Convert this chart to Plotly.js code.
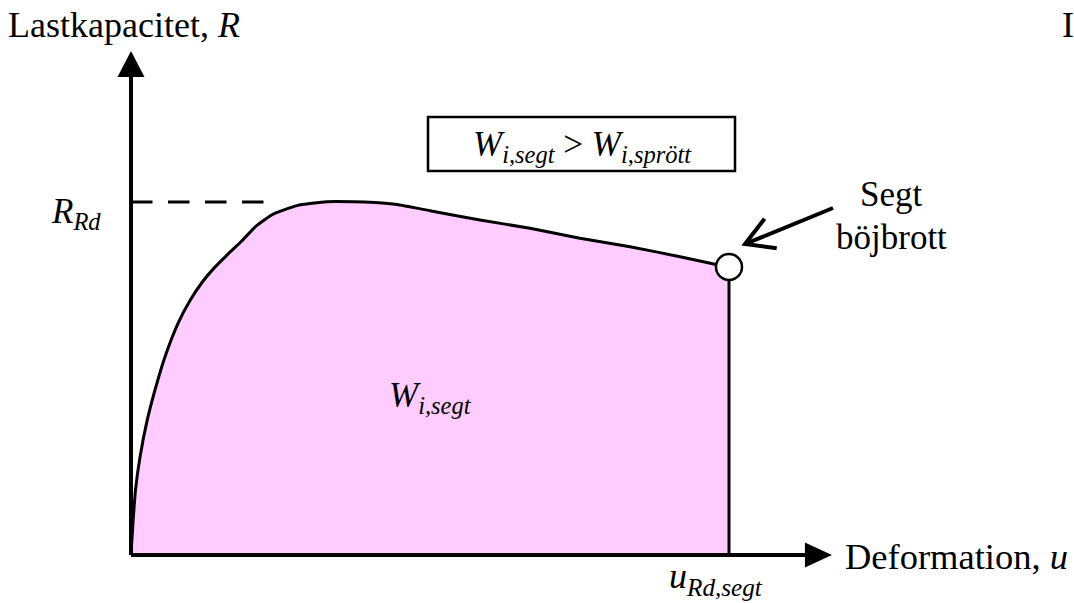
<!DOCTYPE html>
<html><head><meta charset="utf-8">
<script src="https://cdn.plot.ly/plotly-3.0.1.min.js"></script>
<style>html,body{margin:0;padding:0;background:#fff;overflow:hidden;}</style>
</head><body><div id="chart" style="width:1074px;height:603px;"></div>
<script>
// Deformation u (normalised so that u_Rd,segt = 1) and load capacity R (normalised so that R_Rd = 1)
const deformation = [0, 0.0033, 0.0075, 0.0151, 0.0259, 0.0401, 0.0569, 0.0786, 0.0987, 0.1187, 0.1388, 0.1622, 0.1856, 0.2090, 0.2375, 0.2776, 0.3278, 0.3712, 0.4080, 0.4448, 0.5, 0.5836, 0.6672, 0.7508, 0.8344, 0.9181, 0.9821, 1.0];
const capacity    = [0, 0.0907, 0.1841, 0.2776, 0.3731, 0.4674, 0.5618, 0.6564, 0.7210, 0.7720, 0.8127, 0.8524, 0.8901, 0.9317, 0.9654, 0.9898, 1.0008, 1.0008, 0.9983, 0.9929, 0.9754, 0.9490, 0.9255, 0.8972, 0.8734, 0.8450, 0.8215, 0.8159];
const R_Rd = 1.0;          // design capacity level (dashed line)
const uRdSegt = 1.0;       // ductile failure deformation
const dashedEndU = 0.2258; // end of dashed R_Rd line
const axisEndU = 1.127;    // end of u axis shaft
const axisEndR = 1.354;    // end of R axis shaft

const yLabel = 'Lastkapacitet, <i>R</i>';
const xLabel = 'Deformation, <i>u</i>';
const rRdLabel = '<i>R<sub>Rd</sub></i>';
const uRdLabel = '<i>u<sub>Rd,segt</sub></i>';
const areaLabel = '<i>W<sub>i,segt</sub></i>';
const boxLabel = '<i>W<sub>i,segt</sub></i> &gt; <i>W<sub>i,sprött</sub></i>';
const failLabel1 = 'Segt';
const failLabel2 = 'böjbrott';
const cornerLabel = 'I';

// ---- geometry helpers (pixel <-> data for the fixed 1074x603 canvas) ----
const W = 1074, H = 603;
const X0 = 131, Y0 = 555, SX = 598, SY = 353;
const xRange = [-X0 / SX, (W - X0) / SX];
const yRange = [-(H - Y0) / SY, Y0 / SY];
const du = p => p / SX, dr = p => p / SY;
const U = px => (px - X0) / SX, R = py => (Y0 - py) / SY;
const PX = x => x / W, PY = y => 1 - y / H;

const FONT = 'Liberation Serif';
const lastR = capacity[capacity.length - 1];

const traces = [
  {x: deformation, y: capacity, type: 'scatter', mode: 'none', fill: 'tozeroy',
   fillcolor: '#FFCCFF', line: {shape: 'spline', smoothing: 0.5}, hoverinfo: 'skip'},
  {x: deformation, y: capacity, type: 'scatter', mode: 'lines',
   line: {color: '#000', width: 3, shape: 'spline', smoothing: 0.5}, hoverinfo: 'skip'},
  {x: [uRdSegt, uRdSegt], y: [0, lastR], type: 'scatter', mode: 'lines',
   line: {color: '#000', width: 3}, hoverinfo: 'skip'},
  {x: [uRdSegt], y: [lastR], type: 'scatter', mode: 'markers', cliponaxis: false,
   marker: {size: 26, color: '#fff', line: {color: '#000', width: 2.5}}, hoverinfo: 'skip'}
];

// callout arrow
const tail = [833, 208], tip = [745, 244];
const len = Math.hypot(tail[0] - tip[0], tail[1] - tip[1]);
const d = [(tail[0] - tip[0]) / len, (tail[1] - tip[1]) / len];
const wing = (a, L) => [tip[0] + L * (Math.cos(a) * d[0] - Math.sin(a) * d[1]),
                        tip[1] + L * (Math.sin(a) * d[0] + Math.cos(a) * d[1])];
const w1 = wing(Math.PI / 6, 32), w2 = wing(-Math.PI / 6, 32);

const shapes = [
  // axes
  {type: 'line', x0: 0, y0: 0, x1: 0, y1: axisEndR, line: {color: '#000', width: 4}},
  {type: 'line', x0: 0, y0: 0, x1: axisEndU, y1: 0, line: {color: '#000', width: 4}},
  {type: 'path', path: `M${-du(13.5)},${axisEndR} L${du(13.5)},${axisEndR} L0,${axisEndR + dr(26)} Z`,
   fillcolor: '#000', line: {width: 0}},
  {type: 'path', path: `M${axisEndU},${dr(12.5)} L${axisEndU},${-dr(12.5)} L${axisEndU + du(27)},0 Z`,
   fillcolor: '#000', line: {width: 0}},
  // dashed R_Rd
  {type: 'line', x0: 0, y0: R_Rd, x1: dashedEndU, y1: R_Rd, line: {color: '#000', width: 3, dash: '21.5px,15.5px'}},
  // box
  {type: 'rect', x0: U(428), y0: R(117), x1: U(735), y1: R(171), line: {color: '#000', width: 2.5}, fillcolor: 'rgba(0,0,0,0)'},
  // callout arrow
  {type: 'line', x0: U(tail[0]), y0: R(tail[1]), x1: U(tip[0]), y1: R(tip[1]), line: {color: '#000', width: 4}},
  {type: 'path', path: `M${U(w1[0])},${R(w1[1])} L${U(tip[0])},${R(tip[1])} L${U(w2[0])},${R(w2[1])}`,
   line: {color: '#000', width: 4}}
];

const ann = (text, x, y, xa, ya, size) => ({text, x: PX(x), y: PY(y), xref: 'paper', yref: 'paper',
  xanchor: xa, yanchor: ya, showarrow: false, font: {family: FONT, size: size || 35, color: '#000'}});

const annotations = [
  ann(yLabel, 6, 25, 'left', 'middle', 36),
  ann(cornerLabel, 1060, 25, 'left', 'middle', 36),
  ann(xLabel, 843, 556, 'left', 'middle', 36.5),
  ann(rRdLabel, 103, 213, 'right', 'middle'),
  ann(uRdLabel, 716, 578, 'center', 'middle', 36),
  ann(areaLabel, 430, 397, 'center', 'middle'),
  ann(boxLabel, 582, 146, 'center', 'middle'),
  ann(failLabel1, 891, 194, 'center', 'middle'),
  ann(failLabel2, 891, 237, 'center', 'middle')
];

const layout = {
  width: W, height: H, margin: {l: 0, r: 0, t: 0, b: 0},
  paper_bgcolor: '#fff', plot_bgcolor: '#fff', showlegend: false,
  font: {family: FONT},
  xaxis: {range: xRange, visible: false, fixedrange: true},
  yaxis: {range: yRange, visible: false, fixedrange: true},
  shapes, annotations
};

Plotly.newPlot('chart', traces, layout, {displayModeBar: false, staticPlot: true});
</script></body></html>
